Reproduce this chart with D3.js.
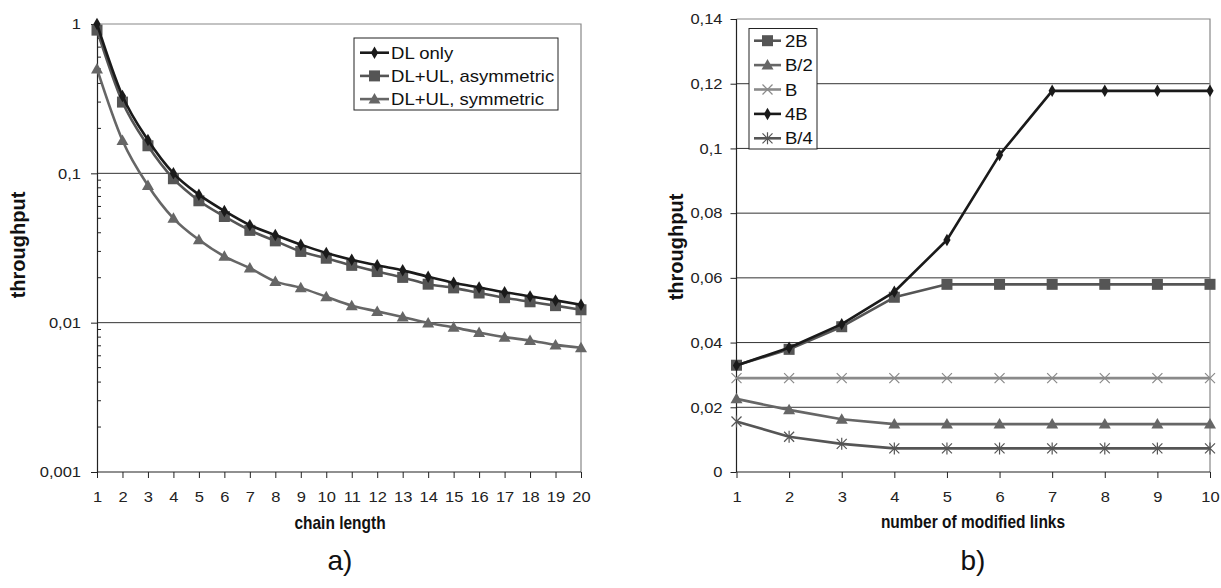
<!DOCTYPE html>
<html><head><meta charset="utf-8">
<script src="https://cdn.jsdelivr.net/npm/d3@7"></script>
<style>body{margin:0;background:#fff}svg{display:block;font-family:"Liberation Sans",Arial,sans-serif}</style>
</head><body><svg id="c" width="1221" height="588"></svg>
<script>
// ---- Chart a) data ----
const chainLength = d3.range(1, 21);
const dlOnly = [1, 0.33, 0.167, 0.1, 0.072, 0.056, 0.045, 0.0386, 0.0333, 0.0293, 0.0264, 0.0242, 0.0224, 0.0203, 0.0185, 0.0172, 0.016, 0.015, 0.0141, 0.0132];
const dlUlAsym = [0.91, 0.30, 0.153, 0.092, 0.0655, 0.0514, 0.0415, 0.0353, 0.030, 0.027, 0.0242, 0.022, 0.0201, 0.0181, 0.0171, 0.0158, 0.0147, 0.0138, 0.013, 0.0122];
const dlUlSym = [0.5, 0.166, 0.083, 0.05, 0.0359, 0.0278, 0.0232, 0.0189, 0.0171, 0.0149, 0.013, 0.0119, 0.0109, 0.00995, 0.0093, 0.0086, 0.008, 0.0076, 0.0071, 0.0068];
const yTicksA = [1, 0.1, 0.01, 0.001];
const yTickLabelsA = ["1", "0,1", "0,01", "0,001"];
const legendA = ["DL only", "DL+UL, asymmetric", "DL+UL, symmetric"];

// ---- Chart b) data ----
const modifiedLinks = d3.range(1, 11);
const s2B = [0.033, 0.0379, 0.0449, 0.054, 0.058, 0.058, 0.058, 0.058, 0.058, 0.058];
const sB2 = [0.0226, 0.0192, 0.0163, 0.0148, 0.0148, 0.0148, 0.0148, 0.0148, 0.0148, 0.0148];
const sB = [0.029, 0.029, 0.029, 0.029, 0.029, 0.029, 0.029, 0.029, 0.029, 0.029];
const s4B = [0.0329, 0.0384, 0.0457, 0.0557, 0.0717, 0.098, 0.1178, 0.1178, 0.1178, 0.1178];
const sB4 = [0.0156, 0.0109, 0.0087, 0.0073, 0.0073, 0.0073, 0.0073, 0.0073, 0.0073, 0.0073];
const yTicksB = [0, 0.02, 0.04, 0.06, 0.08, 0.1, 0.12, 0.14];
const yTickLabelsB = ["0", "0,02", "0,04", "0,06", "0,08", "0,1", "0,12", "0,14"];
const legendB = ["2B", "B/2", "B", "4B", "B/4"];

const svg = d3.select("#c");
const FONT = "Liberation Sans, Arial, sans-serif";

function stretch(sel, f) {
  sel.each(function () {
    const w = this.getComputedTextLength();
    d3.select(this).attr("textLength", w * f).attr("lengthAdjust", "spacingAndGlyphs");
  });
}

function marker(g, type, x, y, color) {
  if (type === "diamond") {
    g.append("path").attr("d", d3.symbol(d3.symbolDiamond, 45)()).attr("transform", `translate(${x},${y})`).attr("fill", color);
  } else if (type === "square") {
    g.append("rect").attr("x", x - 5.5).attr("y", y - 5.5).attr("width", 11).attr("height", 11).attr("fill", color);
  } else if (type === "triangle") {
    g.append("path").attr("d", `M${x},${y - 6}L${x + 6},${y + 4.5}L${x - 6},${y + 4.5}Z`).attr("fill", color);
  } else if (type === "x") {
    g.append("path").attr("d", `M${x - 5},${y - 5}L${x + 5},${y + 5}M${x - 5},${y + 5}L${x + 5},${y - 5}`).attr("stroke", color).attr("stroke-width", 1.2);
  } else if (type === "star") {
    g.append("path").attr("d", `M${x - 5},${y - 5}L${x + 5},${y + 5}M${x - 5},${y + 5}L${x + 5},${y - 5}M${x},${y - 6}L${x},${y + 6}`).attr("stroke", color).attr("stroke-width", 1.2);
  }
}

function styleAxis(ag) {
  ag.selectAll(".tick line").attr("stroke", "#222");
  ag.selectAll("text").attr("font-size", 15).attr("fill", "#222").attr("font-family", FONT);
  stretch(ag.selectAll("text"), 1.1);
}

function xTitle(g, cx, by, label) {
  g.append("text").attr("transform", `translate(${cx},${by}) scale(1,1.2)`).attr("text-anchor", "middle")
    .attr("font-size", 15.5).attr("font-weight", "bold").attr("fill", "#111").text(label);
}

// ================= Chart a =================
{
  const L = 97, R = 581, T = 24, B = 472;
  const x = d3.scalePoint().domain(chainLength).range([L, R]);
  const y = d3.scaleLog().domain([0.001, 1]).range([B, T]);
  const g = svg.append("g");
  g.selectAll(".grid").data([0.1, 0.01]).join("line")
    .attr("x1", L).attr("x2", R).attr("y1", d => y(d)).attr("y2", d => y(d))
    .attr("stroke", "#333").attr("stroke-width", 1);
  g.append("path").attr("d", `M${L},${T}H${R}V${B}`).attr("fill", "none").attr("stroke", "#888").attr("stroke-width", 1.2);
  const ya = d3.axisLeft(y).tickValues(yTicksA).tickFormat((d, i) => yTickLabelsA[i]).tickSize(6).tickPadding(10);
  const yg = g.append("g").attr("transform", `translate(${L},0)`).call(ya);
  yg.select(".domain").attr("stroke", "#222").attr("stroke-width", 1.2);
  styleAxis(yg);
  const minor = [];
  [0.001, 0.01, 0.1].forEach(b => { for (let k = 2; k <= 9; k++) minor.push(b * k); });
  g.selectAll(".minor").data(minor).join("line")
    .attr("x1", L).attr("x2", L + 4).attr("y1", d => y(d)).attr("y2", d => y(d))
    .attr("stroke", "#222").attr("stroke-width", 1);
  const xa = d3.axisBottom(x).tickSize(6).tickPadding(13);
  const xg = g.append("g").attr("transform", `translate(0,${B})`).call(xa);
  xg.select(".domain").attr("d", `M${L},0H${R}`).attr("stroke", "#222").attr("stroke-width", 1.2);
  styleAxis(xg);

  const series = [
    { vals: dlUlSym, color: "#666", type: "triangle" },
    { vals: dlUlAsym, color: "#555", type: "square" },
    { vals: dlOnly, color: "#1a1a1a", type: "diamond" }
  ];
  series.forEach(s => {
    const line = d3.line().x((d, i) => x(chainLength[i])).y(d => y(d)).curve(d3.curveMonotoneX);
    g.append("path").attr("d", line(s.vals)).attr("fill", "none").attr("stroke", s.color).attr("stroke-width", 2.6);
    s.vals.forEach((v, i) => marker(g, s.type, x(chainLength[i]), y(v), s.color));
  });

  const lg = g.append("g");
  lg.append("rect").attr("x", 354).attr("y", 38).attr("width", 204).attr("height", 72).attr("fill", "#fff").attr("stroke", "#222").attr("stroke-width", 1);
  const leg = [
    { color: "#1a1a1a", type: "diamond" },
    { color: "#555", type: "square" },
    { color: "#666", type: "triangle" }
  ];
  leg.forEach((d, i) => {
    const yy = 52.7 + i * 23.2;
    lg.append("line").attr("x1", 360).attr("x2", 389).attr("y1", yy).attr("y2", yy).attr("stroke", d.color).attr("stroke-width", 2.6);
    marker(lg, d.type, 374.5, yy, d.color);
    const t = lg.append("text").attr("x", 391).attr("y", yy + 6).attr("font-size", 17).attr("fill", "#111").text(legendA[i]);
    stretch(t, 1.09);
  });

  g.append("text").attr("transform", `translate(25,245) rotate(-90)`).attr("text-anchor", "middle")
    .attr("font-size", 20).attr("font-weight", "bold").attr("fill", "#111").text("throughput");
  xTitle(g, 340, 529, "chain length");
  g.append("text").attr("x", 340).attr("y", 570).attr("text-anchor", "middle")
    .attr("font-size", 28).attr("fill", "#111").text("a)");
}

// ================= Chart b =================
{
  const L = 736.5, R = 1210, T = 19, B = 472;
  const x = d3.scalePoint().domain(modifiedLinks).range([L, R]);
  const y = d3.scaleLinear().domain([0, 0.14]).range([B, T]);
  const g = svg.append("g");
  g.selectAll(".grid").data(yTicksB.slice(1, -1)).join("line")
    .attr("x1", L).attr("x2", R).attr("y1", d => y(d)).attr("y2", d => y(d))
    .attr("stroke", "#333").attr("stroke-width", 1);
  g.append("path").attr("d", `M${L},${T}H${R}V${B}`).attr("fill", "none").attr("stroke", "#888").attr("stroke-width", 1.2);
  const ya = d3.axisLeft(y).tickValues(yTicksB).tickFormat((d, i) => yTickLabelsB[i]).tickSize(6).tickPadding(8);
  const yg = g.append("g").attr("transform", `translate(${L},0)`).call(ya);
  yg.select(".domain").attr("d", `M0,${T}V${B}`).attr("stroke", "#222").attr("stroke-width", 1.2);
  styleAxis(yg);
  const xa = d3.axisBottom(x).tickSize(6).tickPadding(13);
  const xg = g.append("g").attr("transform", `translate(0,${B})`).call(xa);
  xg.select(".domain").attr("d", `M${L},0H${R}`).attr("stroke", "#222").attr("stroke-width", 1.2);
  styleAxis(xg);

  const series = [
    { vals: s2B, color: "#555", type: "square" },
    { vals: sB2, color: "#666", type: "triangle" },
    { vals: sB, color: "#8a8a8a", type: "x" },
    { vals: s4B, color: "#1a1a1a", type: "diamond" },
    { vals: sB4, color: "#555", type: "star" }
  ];
  series.forEach(s => {
    const line = d3.line().x((d, i) => x(modifiedLinks[i])).y(d => y(d)).curve(d3.curveLinear);
    g.append("path").attr("d", line(s.vals)).attr("fill", "none").attr("stroke", s.color).attr("stroke-width", 2.6).attr("stroke-linejoin", "round");
    s.vals.forEach((v, i) => marker(g, s.type, x(modifiedLinks[i]), y(v), s.color));
  });

  const lg = g.append("g");
  lg.append("rect").attr("x", 749).attr("y", 28.5).attr("width", 68).attr("height", 120.5).attr("fill", "#fff").attr("stroke", "#222").attr("stroke-width", 1);
  series.forEach((d, i) => {
    const yy = 40.7 + i * 24.4;
    lg.append("line").attr("x1", 754).attr("x2", 781).attr("y1", yy).attr("y2", yy).attr("stroke", d.color).attr("stroke-width", 2.6);
    marker(lg, d.type, 767.5, yy, d.color);
    const t = lg.append("text").attr("x", 785).attr("y", yy + 6).attr("font-size", 17).attr("fill", "#111").text(legendB[i]);
    stretch(t, 1.09);
  });

  g.append("text").attr("transform", `translate(683,247) rotate(-90)`).attr("text-anchor", "middle")
    .attr("font-size", 20).attr("font-weight", "bold").attr("fill", "#111").text("throughput");
  xTitle(g, 973, 528, "number of modified links");
  g.append("text").attr("x", 973).attr("y", 570).attr("text-anchor", "middle")
    .attr("font-size", 28).attr("fill", "#111").text("b)");
}
</script></body></html>
